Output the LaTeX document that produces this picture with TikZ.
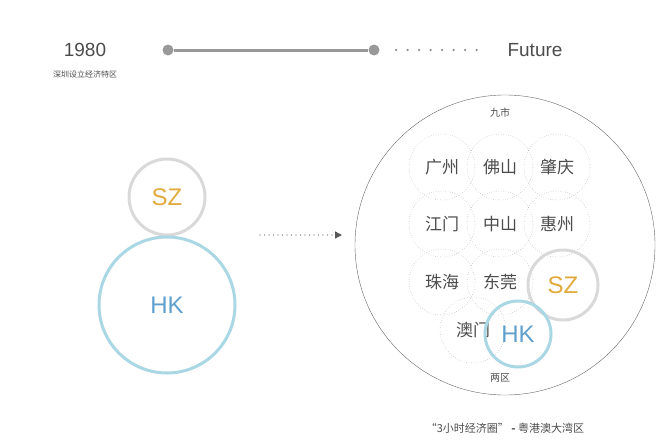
\documentclass[tikz,border=0pt]{standalone}
\usepackage{fontspec}
\setmainfont{Liberation Sans}
\newfontfamily\cjk{Noto Sans CJK SC}
\usetikzlibrary{arrows.meta}
\definecolor{hkline}{RGB}{170,215,228}
\definecolor{hktext}{RGB}{95,160,205}
\definecolor{sztext}{RGB}{225,170,60}
\begin{document}
\begin{tikzpicture}[x=1pt,y=-1pt,
    every node/.style={font=\cjk, text=black!70},
    city/.style={circle, draw=black!45, dotted, minimum size=66pt, font=\cjk\fontsize{17}{17}\selectfont},
    szring/.style={circle, draw=black!15, line width=3pt, text=sztext, font=\fontsize{24}{24}\selectfont},
    hkring/.style={circle, draw=hkline, line width=3pt, text=hktext, font=\fontsize{24}{24}\selectfont}]
    \useasboundingbox (0,0) rectangle (660,447);
    % timeline
    \node[font=\fontsize{19}{19}\selectfont] (y1980) at (85,50) {1980};
    \node[font=\cjk\fontsize{8}{8}\selectfont] (sub) at (85,74) {深圳设立经济特区};
    \node[circle, fill=black!40, inner sep=0pt, minimum size=11pt] (t0) at (168,50) {};
    \node[circle, fill=black!40, inner sep=0pt, minimum size=11pt] (t1) at (374,50) {};
    \coordinate (t2) at (480,50);
    \draw[black!40, line width=3pt] (t0) -- (t1);
    \draw[black!45, line width=2.5pt, dash pattern=on 0pt off 11.5pt, line cap=round] (t1) ++(22,0) -- (t2);
    \node[font=\fontsize{19}{19}\selectfont] (future) at (535,50) {Future};
    % left
    \node[szring, minimum size=76pt] (sz0) at (167,197) {SZ};
    \node[hkring, minimum size=136pt] (hk0) at (167,305) {HK};
    \coordinate (a0) at (260,235);
    \coordinate (a1) at (342,235);
    \draw[black!65, line width=1.3pt, line cap=round, dash pattern=on 0pt off 4.5pt, -{Triangle[length=7pt,width=7pt]}] (a0) -- (a1);
    % bay area
    \node[circle, draw=black!60, minimum size=300pt] (bay) at (505,245) {};
    \node[font=\cjk\fontsize{10}{10}\selectfont] (jiu) at (500,113) {九市};
    \node[city] (gz) at (442,167) {广州};
    \node[city] (fs) at (500,167) {佛山};
    \node[city] (zq) at (557,167) {肇庆};
    \node[city] (jm) at (442,224) {江门};
    \node[city] (zs) at (500,224) {中山};
    \node[city] (hz) at (557,224) {惠州};
    \node[city] (zh) at (442,282) {珠海};
    \node[city] (dg) at (500,282) {东莞};
    \node[city] (am) at (473,330) {澳门};
    \node[szring, minimum size=70pt] (sz) at (563,285) {SZ};
    \node[hkring, minimum size=66pt] (hk) at (518,334) {HK};
    \node[font=\cjk\fontsize{10}{10}\selectfont] (liang) at (500,378) {两区};
    \node[font=\cjk\fontsize{11}{11}\selectfont] (cap) at (505,428) {“3小时经济圈” \textbf{-} 粤港澳大湾区};
\end{tikzpicture}
\end{document}
